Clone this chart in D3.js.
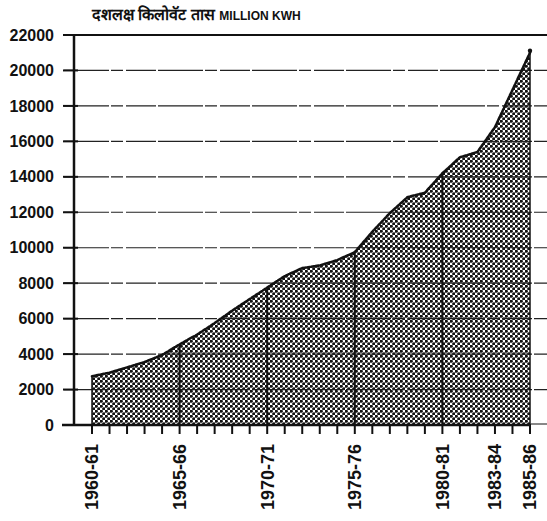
<!DOCTYPE html>
<meta charset="utf-8">
<style>
body, html {
    margin: 0;
    padding: 0;
    background: #fff;
    overflow: hidden;
}
svg { display: block; }
text {
    font-family: "Liberation Sans", "DejaVu Sans", sans-serif;
    fill: #111;
}
</style>
<svg width="547" height="521"></svg>
<script src="https://cdn.jsdelivr.net/npm/d3@7"></script>
<script>

// generation, million kWh, per year (1960-61 .. 1985-86)
var years = [1960, 1961, 1962, 1963, 1964, 1965, 1966, 1967, 1968, 1969,
             1970, 1971, 1972, 1973, 1974, 1975, 1976, 1977, 1978, 1979,
             1980, 1981, 1982, 1983, 1984, 1985];
var values = [2750, 2950, 3250, 3550, 3950, 4550, 5100, 5750, 6450, 7100,
              7750, 8400, 8850, 9000, 9300, 9750, 10900, 11950, 12850, 13100,
              14200, 15100, 15400, 16800, 18900, 21000];
var labelYears = [1960, 1965, 1970, 1975, 1980, 1983, 1985];
var dropYears = [1965, 1970, 1975, 1980];
var yTicks = [0, 2000, 4000, 6000, 8000, 10000, 12000, 14000, 16000, 18000, 20000, 22000];

var data = years.map(function(y, i) { return {year: y, value: values[i]}; });

var svg = d3.select("svg");

var x = d3.scaleLinear().domain([1960, 1985]).range([92, 530]);
var y = d3.scaleLinear().domain([0, 22000]).range([425, 35]);

// dotted screen pattern
var defs = svg.append("defs");
var pat = defs.append("pattern")
    .attr("id", "dots")
    .attr("patternUnits", "userSpaceOnUse")
    .attr("width", 5)
    .attr("height", 5);
pat.append("rect").attr("width", 5).attr("height", 5).attr("fill", "#fff");
pat.append("circle").attr("cx", 1.25).attr("cy", 1.25).attr("r", 1.6).attr("fill", "#111");
pat.append("circle").attr("cx", 3.75).attr("cy", 3.75).attr("r", 1.6).attr("fill", "#111");

var area = d3.area()
    .x(function(d) { return x(d.year); })
    .y0(y(0))
    .y1(function(d) { return y(d.value); });

var line = d3.line()
    .x(function(d) { return x(d.year); })
    .y(function(d) { return y(d.value); });

svg.append("path")
    .datum(data)
    .attr("d", area)
    .attr("fill", "url(#dots)");

// grid lines
svg.append("g").selectAll("line")
    .data(yTicks.filter(function(t) { return t > 0 && t < 22000; }))
  .enter().append("line")
    .attr("x1", 64)
    .attr("x2", 547)
    .attr("y1", function(d) { return y(d); })
    .attr("y2", function(d) { return y(d); })
    .attr("stroke", "#222")
    .attr("stroke-width", 1.2)
    .attr("stroke-dasharray", "45,2,12,3,30,2");

// drop lines
svg.append("g").selectAll("line")
    .data(dropYears)
  .enter().append("line")
    .attr("x1", function(d) { return x(d); })
    .attr("x2", function(d) { return x(d); })
    .attr("y1", y(0))
    .attr("y2", function(d) { return y(values[years.indexOf(d)]); })
    .attr("stroke", "#111")
    .attr("stroke-width", 2);

// edges of the area
svg.append("line")
    .attr("x1", x(1960)).attr("x2", x(1960))
    .attr("y1", y(0)).attr("y2", y(values[0]))
    .attr("stroke", "#111").attr("stroke-width", 1.5);
svg.append("line")
    .attr("x1", x(1985)).attr("x2", x(1985))
    .attr("y1", y(0)).attr("y2", y(values[values.length - 1]))
    .attr("stroke", "#111").attr("stroke-width", 1.5);

svg.append("path")
    .datum(data)
    .attr("d", line)
    .attr("fill", "none")
    .attr("stroke", "#111")
    .attr("stroke-width", 2.6)
    .attr("stroke-dasharray", "3,1.5")
    .attr("stroke-linecap", "round");

svg.append("circle")
    .attr("cx", x(1985)).attr("cy", y(values[values.length - 1]) - 2)
    .attr("r", 2.2).attr("fill", "#111");

// y axis
svg.append("line")
    .attr("x1", 74).attr("x2", 74)
    .attr("y1", y(0) + 1).attr("y2", y(22000))
    .attr("stroke", "#111").attr("stroke-width", 2.5);

// top rule
svg.append("line")
    .attr("x1", 66).attr("x2", 547)
    .attr("y1", y(22000)).attr("y2", y(22000))
    .attr("stroke", "#111").attr("stroke-width", 2);

// x axis
svg.append("line")
    .attr("x1", 62).attr("x2", 531)
    .attr("y1", y(0)).attr("y2", y(0))
    .attr("stroke", "#111").attr("stroke-width", 2.5);
svg.append("line")
    .attr("x1", 531).attr("x2", 547)
    .attr("y1", y(0) - 1).attr("y2", y(0) - 1)
    .attr("stroke", "#111").attr("stroke-width", 1);

// y ticks and labels
var yt = svg.append("g").selectAll("g")
    .data(yTicks)
  .enter().append("g")
    .attr("transform", function(d) { return "translate(0," + y(d) + ")"; });
yt.append("line")
    .attr("x1", 63).attr("x2", 78)
    .attr("stroke", "#111").attr("stroke-width", 2);
yt.append("text")
    .attr("x", 54)
    .attr("dy", "0.35em")
    .attr("text-anchor", "end")
    .style("font-size", "16px")
    .style("font-weight", "bold")
    .text(function(d) { return d; });

// x ticks (every year)
svg.append("g").selectAll("line")
    .data(years)
  .enter().append("line")
    .attr("x1", function(d) { return x(d); })
    .attr("x2", function(d) { return x(d); })
    .attr("y1", y(0))
    .attr("y2", y(0) + 9)
    .attr("stroke", "#111")
    .attr("stroke-width", 2);

svg.append("g").selectAll("text")
    .data(labelYears)
  .enter().append("text")
    .attr("transform", function(d) { return "translate(" + x(d) + "," + 444 + ") rotate(-90)"; })
    .attr("dy", "0.36em")
    .attr("text-anchor", "end")
    .style("font-size", "18px")
    .style("font-weight", "bold")
    .text(function(d) { return d + "-" + d3.format("02")((d + 1) % 100); });

// title
var title = svg.append("text")
    .attr("x", 92)
    .attr("y", 20);
title.append("tspan")
    .style("font-size", "16px")
    .style("font-weight", "bold")
    .text("दशलक्ष किलोवॅट तास ");
title.append("tspan")
    .style("font-size", "12px")
    .style("font-weight", "bold")
    .text("MILLION KWH");

</script>
